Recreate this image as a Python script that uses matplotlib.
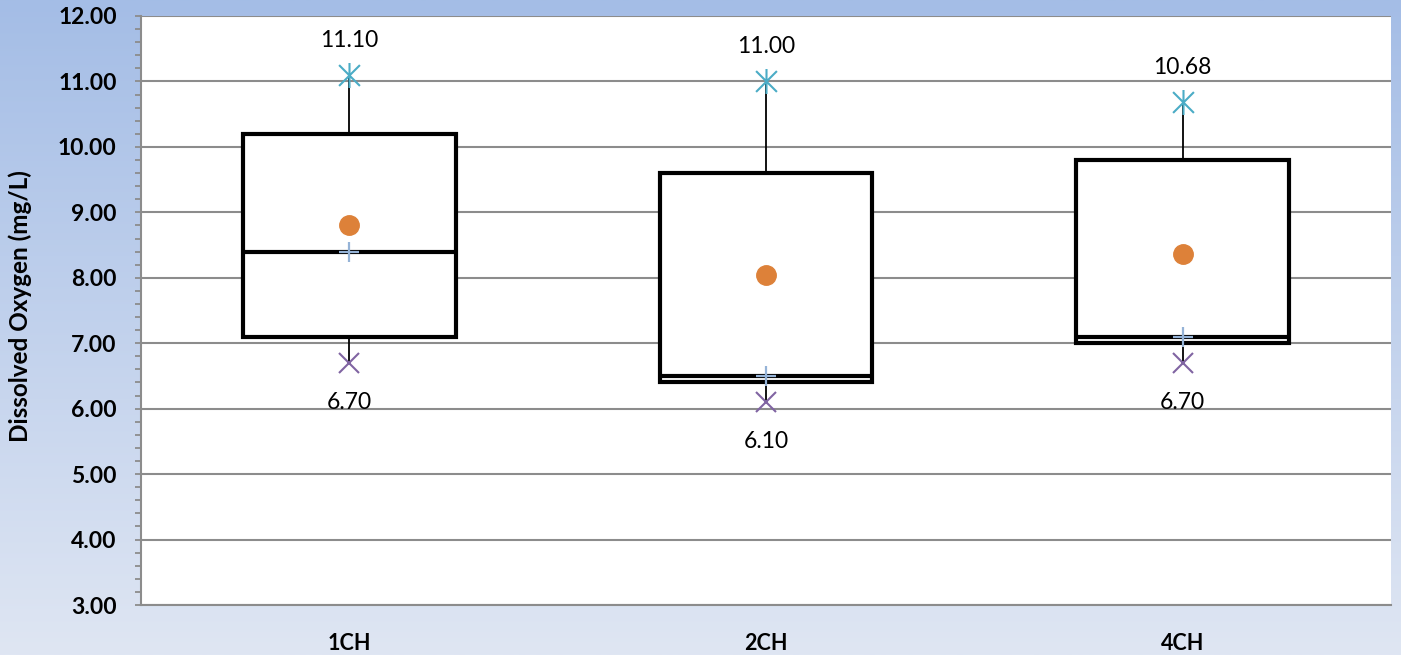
import numpy as np
import matplotlib
matplotlib.use("Agg")
import matplotlib.pyplot as plt
from matplotlib.ticker import MultipleLocator, FormatStrFormatter
from matplotlib.path import Path

categories = ["1CH", "2CH", "4CH"]
q1 = [7.1, 6.4, 7.0]
median = [8.4, 6.5, 7.1]
q3 = [10.2, 9.6, 9.8]
minimum = [6.7, 6.1, 6.7]
maximum = [11.1, 11.0, 10.68]
mean = [8.8, 8.05, 8.37]

plt.rcParams['font.family'] = ['Lato', 'DejaVu Sans']

fig = plt.figure(figsize=(14.01, 6.55), dpi=100)

# gradient background
bg = fig.add_axes([0, 0, 1, 1], zorder=-10)
top = np.array([164, 189, 230]) / 255
bot = np.array([223, 230, 243]) / 255
t = np.linspace(0, 1, 256)[:, None]
grad = top[None, :] * (1 - t) + bot[None, :] * t
bg.imshow(grad[:, None, :], aspect='auto', extent=[0, 1, 0, 1])
bg.axis('off')

ax = fig.add_axes([141/1401, 1 - 605/655, 1250/1401, (605-16)/655])
ax.set_facecolor('white')

x = np.arange(len(categories))
stats = []
for i in range(len(categories)):
    stats.append(dict(med=median[i], q1=q1[i], q3=q3[i],
                      whislo=minimum[i], whishi=maximum[i], fliers=[]))
ax.bxp(stats, positions=x, widths=0.51, showcaps=False, showfliers=False,
       patch_artist=True,
       boxprops=dict(facecolor='white', edgecolor='black', linewidth=3),
       medianprops=dict(color='black', linewidth=3),
       whiskerprops=dict(color='black', linewidth=1.3), zorder=3)

star = Path([(-1, -1), (1, 1), (-1, 1), (1, -1), (0, -1.2), (0, 1.2)],
            [Path.MOVETO, Path.LINETO, Path.MOVETO, Path.LINETO, Path.MOVETO, Path.LINETO])
ax.plot(x, maximum, linestyle='none', marker=star, markersize=18,
        markeredgecolor='#4bacc6', markeredgewidth=1.5, zorder=5)
ax.plot(x, minimum, linestyle='none', marker='x', markersize=14,
        markeredgecolor='#8064a2', markeredgewidth=1.5, zorder=5)
ax.plot(x, median, linestyle='none', marker='+', markersize=15,
        markeredgecolor='#95b3d7', markeredgewidth=1.6, zorder=5)
ax.plot(x, mean, linestyle='none', marker='o', markersize=14,
        markerfacecolor='#dd8139', markeredgecolor='#dd8139', zorder=6)

for i in range(len(categories)):
    ax.annotate(f"{maximum[i]:.2f}", (x[i], maximum[i]), xytext=(0, 25),
                textcoords='offset points', ha='center', va='center', fontsize=16.5)
    ax.annotate(f"{minimum[i]:.2f}", (x[i], minimum[i]), xytext=(0, -28.5),
                textcoords='offset points', ha='center', va='center', fontsize=16.5)

ax.set_xlim(-0.5, 2.5)
ax.set_ylim(3, 12)
ax.yaxis.set_major_locator(MultipleLocator(1))
ax.yaxis.set_minor_locator(MultipleLocator(0.2))
ax.yaxis.set_major_formatter(FormatStrFormatter('%.2f'))
ax.set_xticks(x)
ax.set_xticklabels(categories, fontweight='bold', fontsize=15.5)
ax.tick_params(axis='x', length=0, pad=20)
ax.tick_params(axis='y', which='both', direction='out', length=4.5, width=1.3,
               color='#8c8c8c', pad=13)
ax.tick_params(axis='y', labelsize=16.5)
for lab in ax.get_yticklabels():
    lab.set_fontweight('bold')

ax.grid(axis='y', which='major', color='#8c8c8c', linewidth=1.5, zorder=0)
ax.set_axisbelow(True)
gl = ax.get_ygridlines()
gl[-1].set_visible(False)

for s in ['top', 'right']:
    ax.spines[s].set_visible(False)
for s in ['left', 'bottom']:
    ax.spines[s].set_color('#8c8c8c')
    ax.spines[s].set_linewidth(1.5)

fig.text(20/1401, 1 - 306/655, "Dissolved Oxygen (mg/L)", rotation=90,
         fontweight='bold', fontsize=17.5, ha='center', va='center')

fig.savefig("out.png", dpi=100)
